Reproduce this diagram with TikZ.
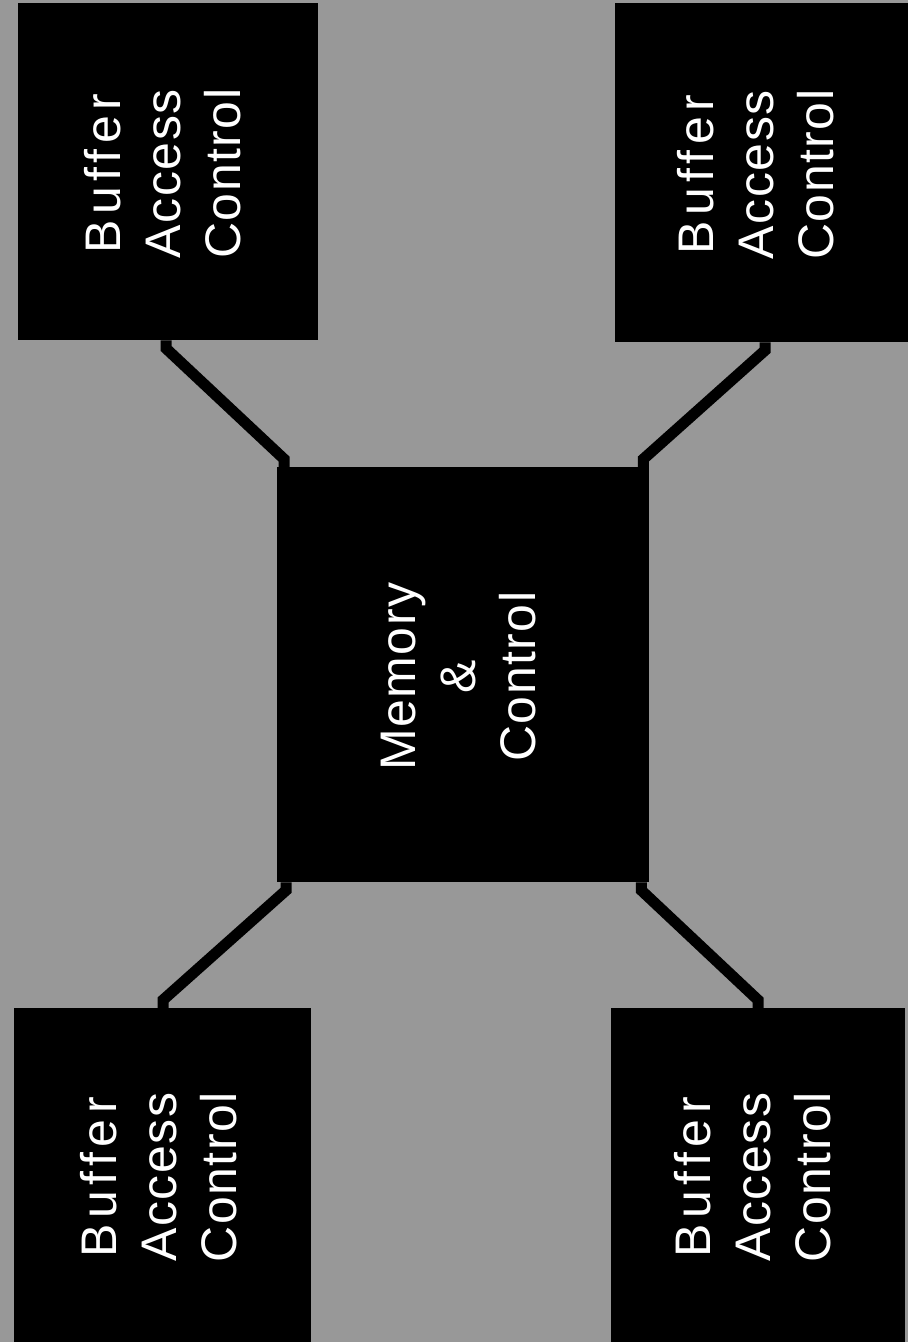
\documentclass[tikz,border=0pt]{standalone}
\usepackage{fontspec}
\setmainfont{Liberation Sans}[LetterSpace=3]
\newfontfamily\widefont{Liberation Sans}[LetterSpace=11]
\definecolor{bggray}{RGB}{152,152,152}
\tikzset{
  blkbox/.style={draw=none, fill=black, rectangle, inner sep=0pt, anchor=north west},
  blktext/.style={text=white, rotate=90, align=center, inner sep=0pt,
    font=\fontsize{50}{60}\selectfont},
  wire/.style={line width=11pt, black, line cap=butt, line join=miter}
}
\newcommand{\bactext}{{\widefont Buffer}\\Access\\Control}
\begin{document}
\begin{tikzpicture}[x=1pt,y=-1pt]
\fill[bggray] (0,0) rectangle (908,1342);
\useasboundingbox (0,0) rectangle (908,1342);
% boxes
\node[blkbox, minimum width=300pt, minimum height=337pt] (tl) at (18,3) {};
\node[blkbox, minimum width=293pt, minimum height=339pt] (tr) at (615,3) {};
\node[blkbox, minimum width=372pt, minimum height=415pt] (c) at (277,467) {};
\node[blkbox, minimum width=297pt, minimum height=334pt] (bl) at (14,1008) {};
\node[blkbox, minimum width=294pt, minimum height=334pt] (br) at (611,1008) {};
% texts
\node[blktext] (tltxt) at ([xshift=-6pt,yshift=-2pt]tl.center) {\bactext};
\node[blktext] (trtxt) at ([xshift=-6pt,yshift=-2pt]tr.center) {\bactext};
\node[blktext] (bltxt) at ([xshift=-4pt,yshift=-2pt]bl.center) {\bactext};
\node[blktext] (brtxt) at ([xshift=-6pt,yshift=-2pt]br.center) {\bactext};
\node[blktext] (ctxt) at ([xshift=-5pt,yshift=-2pt]c.center) {Memory\\\&\\Control};
% connectors
\draw[wire] ([xshift=148pt]tl.south west) -- ++(0,8)
  -- ([xshift=7pt,yshift=8pt]c.north west) -- ([xshift=7pt]c.north west);
\draw[wire] ([xshift=150pt]tr.south west) -- ++(0,8)
  -- ([xshift=-6pt,yshift=8pt]c.north east) -- ([xshift=-6pt]c.north east);
\draw[wire] ([xshift=149pt]bl.north west) -- ++(0,-8)
  -- ([xshift=9pt,yshift=-8pt]c.south west) -- ([xshift=9pt]c.south west);
\draw[wire] ([xshift=147pt]br.north west) -- ++(0,-8)
  -- ([xshift=-8pt,yshift=-8pt]c.south east) -- ([xshift=-8pt]c.south east);
\end{tikzpicture}
\end{document}
